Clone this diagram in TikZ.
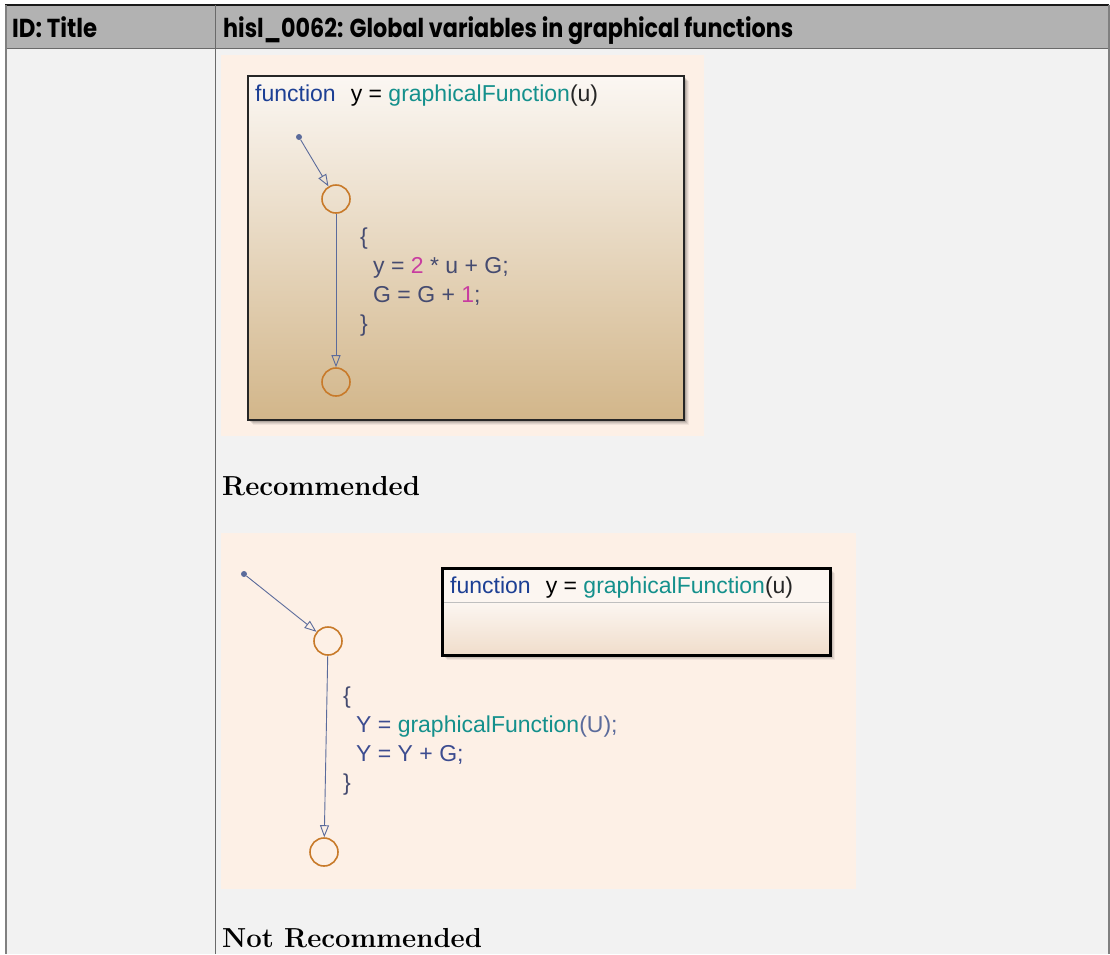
\documentclass[tikz,border=0pt]{standalone}
\usepackage{fontspec}
\usepackage{graphicx}
\usetikzlibrary{arrows.meta}
\newfontfamily\arialf{Liberation Sans}
\newfontfamily\hdrf{Poppins}
\definecolor{hdrgray}{HTML}{B2B2B2}
\definecolor{bodygray}{HTML}{F2F2F2}
\definecolor{peach}{HTML}{FDF0E6}
\definecolor{boxtop}{HTML}{FBF7F3}
\definecolor{boxbot}{HTML}{D2B68A}
\definecolor{box2top}{HTML}{FCF6F1}
\definecolor{box2bot}{HTML}{F0DDCB}
\definecolor{fnblue}{HTML}{1C3F94}
\definecolor{fnteal}{HTML}{14908C}
\definecolor{codec}{HTML}{454B70}
\definecolor{codeblue}{HTML}{3C4C90}
\definecolor{numc}{HTML}{C83CA0}
\definecolor{transc}{HTML}{5B6B9B}
\definecolor{statec}{HTML}{C87A2A}
\definecolor{rulegray}{HTML}{6A6A6A}
\begin{document}
\begin{tikzpicture}[x=1pt,y=-1pt,
  txt/.style={inner sep=0pt, anchor=base west},
  code/.style={txt, font=\arialf\fontsize{23}{28}\selectfont, text=codec},
  fntitle/.style={txt, font=\arialf\fontsize{23}{28}\selectfont},
  hdr/.style={txt, font=\hdrf\bfseries\fontsize{26}{30}\selectfont},
  caption/.style={txt, font=\bfseries\fontsize{27.5}{32}\selectfont},
  state/.style={circle, draw=statec, line width=1.6pt, minimum size=28pt, inner sep=0pt},
  initdot/.style={circle, fill=transc, minimum size=6pt, inner sep=0pt},
  trans/.style={draw=transc, line width=0.9pt, -{Triangle[open, length=12pt, width=9pt]}},
]
\useasboundingbox (0,0) rectangle (1110,954);
\fill[white] (0,0) rectangle (1110,954);
% table
\fill[bodygray] (5,48) rectangle (1109,954);
\fill[hdrgray] (5,5) rectangle (1109,48);
\draw[black!90, line width=1.4pt] (5,5) -- (1109,5);
\draw[rulegray, line width=1pt] (5,48) -- (1109,48);
\draw[gray, line width=2pt] (6,5) -- (6,954);
\draw[gray, line width=1.2pt] (1109,5) -- (1109,954);
\draw[rulegray, line width=1.3pt] (215.5,5) -- (215.5,954);
\node[hdr] (h1) at (12,37) {\resizebox{85pt}{\height}{ID: Title}};
\node[hdr] (h2) at (223,37) {\resizebox{570pt}{\height}{hisl\_0062: Global variables in graphical functions}};

% ---------- recommended picture
\fill[peach] (221,55) rectangle (704,436);
\foreach \k/\o in {5/0.05,4/0.07,3/0.09,2/0.12,1/0.15}
  \fill[black, opacity=\o] (248+\k,76+\k) rectangle (684+\k,420+\k);
\shade[top color=boxtop, bottom color=boxbot] (248,76) rectangle (684,420);
\node[draw=black!85, line width=2pt, minimum width=436pt, minimum height=344pt, inner sep=0pt] (box1) at (466,248) {};
\node[fntitle] (t1) at (255,101) {\textcolor{fnblue}{function}\hspace{15pt}\textcolor{black}{y =} \textcolor{fnteal}{graphicalFunction}\textcolor{black!85}{(u)}};
\node[initdot] (d1) at (299,137) {};
\node[state] (s1) at (336,199) {};
\node[state] (s2) at (336,382) {};
\draw[trans] (d1) -- (s1);
\draw[trans] (s1) -- (s2);
\node[code] (c1a) at (360,244) {\{};
\node[code] (c1b) at (373,273) {y = \textcolor{numc}{2} * u + G;};
\node[code] (c1c) at (373,302) {G = G + \textcolor{numc}{1};};
\node[code] (c1d) at (360,331) {\}};
\node[caption] (cap1) at (222,495) {Recommended};

% ---------- not recommended picture
\fill[peach] (221,533) rectangle (856,889);
\foreach \k/\o in {5/0.05,4/0.07,3/0.09,2/0.12,1/0.15}
  \fill[black, opacity=\o] (442+\k,568+\k) rectangle (830+\k,655+\k);
\fill[box2top] (442,568) rectangle (830,602);
\shade[top color=box2top, bottom color=box2bot] (442,602) rectangle (830,655);
\draw[black!25, line width=0.8pt] (442,602) -- (830,602);
\node[draw=black, line width=3pt, minimum width=388pt, minimum height=87pt, inner sep=0pt] (box2) at (636,611.5) {};
\node[fntitle] (t2) at (450,593) {\textcolor{fnblue}{function}\hspace{15pt}\textcolor{black}{y =} \textcolor{fnteal}{graphicalFunction}\textcolor{black!85}{(u)}};
\node[initdot] (d2) at (244,574) {};
\node[state] (s3) at (328,641) {};
\node[state] (s4) at (324,852) {};
\draw[trans] (d2) -- (s3);
\draw[trans] (s3) -- (s4);
\node[code] (c2a) at (343,703) {\{};
\node[code] (c2b) at (356,732) {\textcolor{codeblue}{Y =} \textcolor{fnteal}{graphicalFunction}\textcolor{transc}{(U);}};
\node[code, text=codeblue] (c2c) at (356,761) {Y = Y + G;};
\node[code] (c2d) at (343,790) {\}};
\node[caption] (cap2) at (222,947) {Not Recommended};
\end{tikzpicture}
\end{document}
